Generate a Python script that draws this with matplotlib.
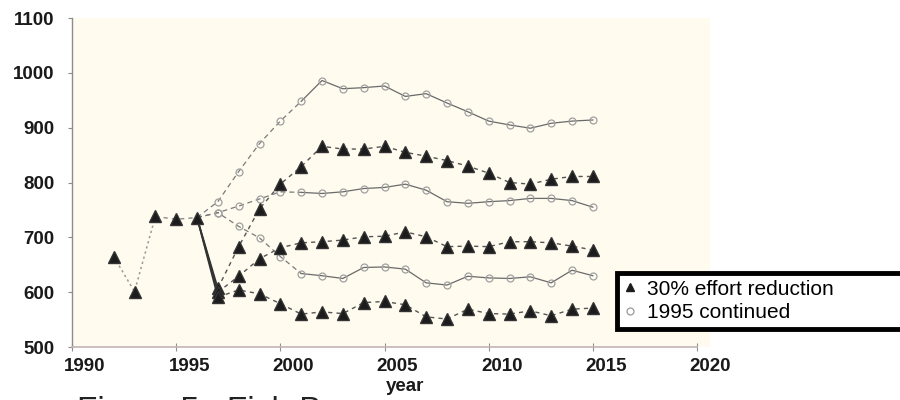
import matplotlib
matplotlib.use("Agg")
import matplotlib.pyplot as plt
from matplotlib.lines import Line2D
from matplotlib.transforms import ScaledTranslation

plt.rcParams['font.family'] = ['Liberation Sans', 'DejaVu Sans']

# Observed biomass before the management change
hist_years = [1992, 1993, 1994, 1995, 1996]
hist_values = [665, 601, 738, 733, 736]

# Projection years (start at the last observed year)
proj_years = list(range(1996, 2016))

# 30% effort reduction scenarios (high / mid / low)
reduce_high = [736, 607, 683, 752, 797, 829, 866, 861, 861, 866,
               855, 848, 840, 830, 817, 800, 797, 806, 811, 811]
reduce_mid = [736, 600, 629, 661, 681, 690, 692, 695, 701, 702,
              710, 701, 683, 684, 683, 692, 692, 690, 684, 677]
reduce_low = [736, 591, 604, 597, 579, 560, 564, 561, 581, 583,
              577, 555, 551, 569, 561, 560, 566, 557, 569, 571]

# 1995 effort continued scenarios (high / mid / low)
cont_high = [736, 765, 820, 871, 912, 948, 986, 971, 973, 976,
             957, 962, 945, 929, 912, 905, 899, 908, 912, 914]
cont_mid = [736, 745, 757, 770, 783, 782, 780, 783, 789, 791,
            797, 786, 765, 762, 765, 767, 771, 771, 767, 755]
cont_low = [736, 745, 720, 699, 665, 634, 630, 625, 645, 646,
            642, 617, 613, 629, 626, 625, 628, 617, 640, 630]

x_ticks = [1990, 1995, 2000, 2005, 2010, 2015, 2020]
y_ticks = [500, 600, 700, 800, 900, 1000, 1100]
legend_labels = ["30% effort reduction", "1995 continued"]

fig = plt.figure(figsize=(9, 4), dpi=100)
ax = fig.add_axes([72 / 900, 1 - 347 / 400, (709.5 - 72) / 900, 329 / 400])
ax.set_facecolor('#fffbef')

tri_kw = dict(marker='^', ms=8, color='#1c1c1c', mec='#333333')
open_kw = dict(marker='o', ms=5, mfc='none', mec='#a0a0a0', mew=0.9)

# effort-reduction runs: solid drop in the first year, dashed afterwards
for series in (reduce_high, reduce_mid, reduce_low):
    ax.plot(proj_years[:2], series[:2], '-', color='#333333', lw=1.2, zorder=2)
    ax.plot(proj_years[1:], series[1:], linestyle=(0, (3, 3)), color='#555555',
            lw=1.0, zorder=2)
    ax.plot(proj_years[1:], series[1:], linestyle='none', zorder=4, **tri_kw)

# continued-effort runs: thin grey lines with open markers
for series in (cont_high, cont_mid, cont_low):
    ax.plot(proj_years[:6], series[:6], linestyle=(0, (4, 3)), color='#7a7a7a',
            lw=0.9, zorder=2)
    ax.plot(proj_years[5:], series[5:], '-', color='#6a6a6a', lw=0.9, zorder=2)
    ax.plot(proj_years[1:], series[1:], linestyle='none', zorder=3, **open_kw)

# observed history
ax.plot(hist_years[:3], hist_values[:3], linestyle=(0, (1.5, 2)),
        color='#9a9a9a', lw=1.1, zorder=2)
ax.plot(hist_years[2:], hist_values[2:], linestyle=(0, (3, 3)),
        color='#8a8a8a', lw=1.0, zorder=2)
ax.plot(hist_years, hist_values, linestyle='none', zorder=4, **tri_kw)

ax.set_xlim(1990, 2020.6)
ax.set_ylim(500, 1100)
ax.set_xticks(x_ticks)
ax.set_yticks(y_ticks)

for side in ('top', 'right'):
    ax.spines[side].set_visible(False)
ax.spines['left'].set_color('#8c8c8c')
ax.spines['bottom'].set_color('#c4b4b4')
ax.spines['bottom'].set_bounds(1990, 2020)
ax.spines['left'].set_linewidth(1.0)
ax.spines['bottom'].set_linewidth(1.2)

ax.tick_params(axis='y', direction='out', length=3, color='#8c8c8c', pad=9.5,
               labelsize=13.5)
ax.tick_params(axis='x', direction='inout', length=6, color='#909090', pad=5,
               labelsize=13.5)
for lab in ax.get_xticklabels() + ax.get_yticklabels():
    lab.set_fontweight('bold')
    lab.set_color('#1a1a1a')
shift = ScaledTranslation(0.13, 0, fig.dpi_scale_trans)
for lab in ax.get_xticklabels():
    lab.set_transform(lab.get_transform() + shift)

fig.text(405 / 900, 1 - 378 / 400, 'year', ha='center', va='top',
         fontsize=13.5, fontweight='bold', color='#1a1a1a')

# figure caption running off the lower edge
fig.text(77 / 900, -0.05, 'Figure 5.  Fish B', ha='left', va='baseline',
         fontsize=24, color='#222222')

handles = [
    Line2D([], [], linestyle='none', marker='^', ms=5.5, color='#1c1c1c'),
    Line2D([], [], linestyle='none', marker='o', ms=5, mfc='none',
           mec='#9a9a9a', mew=0.9),
]
leg = fig.legend(handles, legend_labels, loc='center left',
                 bbox_to_anchor=(617 / 900, 1 - 332 / 400, 0.4, 62 / 400),
                 mode='expand', fontsize=15, frameon=True, fancybox=False,
                 borderpad=0.3, labelspacing=0.22, handlelength=0.6,
                 handletextpad=0.55, borderaxespad=0)
frame = leg.get_frame()
frame.set_edgecolor('black')
frame.set_linewidth(3.5)
frame.set_facecolor('white')
frame.set_alpha(1)

fig.savefig('out.png', dpi=100, facecolor='white')
